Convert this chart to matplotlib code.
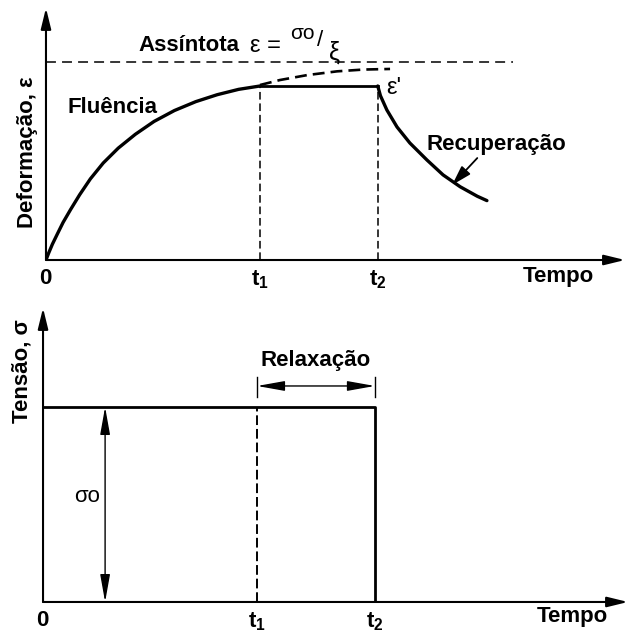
import matplotlib.pyplot as plt

plt.rcParams['font.family'] = ['Liberation Sans', 'DejaVu Sans']
plt.rcParams['mathtext.fontset'] = 'custom'
plt.rcParams['mathtext.rm'] = 'Liberation Sans'
plt.rcParams['mathtext.bf'] = 'Liberation Sans:bold'

# ==============================================================
# Dados (unidades arbitrárias de tempo e deformação)
# ==============================================================
t1 = 4.0
t2 = 6.2
asymptote = 1.0
sigma0 = 1.0

# fluência: de 0 até t1
creep_t = [0.0, 0.05, 0.12, 0.21, 0.32, 0.46, 0.63, 0.83, 1.07, 1.35,
           1.67, 2.02, 2.40, 2.80, 3.20, 3.60, 4.0]
creep_e = [0.0, 0.035, 0.08, 0.13, 0.19, 0.255, 0.33, 0.41, 0.49, 0.565,
           0.635, 0.70, 0.755, 0.80, 0.835, 0.862, 0.879]

# deformação constante entre t1 e t2
hold_t = [t1, t2]
hold_e = [0.879, 0.879]

# continuação da fluência (tracejada)
extra_t = [4.0, 4.37, 4.88, 5.44, 5.93, 6.43]
extra_e = [0.884, 0.909, 0.934, 0.953, 0.962, 0.965]

# recuperação após t2
rec_t = [6.2, 6.25, 6.37, 6.56, 6.80, 7.12, 7.42, 7.74, 8.06, 8.24]
rec_e = [0.879, 0.83, 0.758, 0.672, 0.591, 0.505, 0.43, 0.37, 0.322, 0.30]

asym_end = 8.73

# tensão aplicada
stress_t = [0.0, t2, t2]
stress_s = [sigma0, sigma0, 0.0]

tick_pos = [0.0, t1, t2]
tick_lab = [r'$\mathbf{0}$', r'$\mathbf{t_1}$', r'$\mathbf{t_2}$']

# ==============================================================
# Figura
# ==============================================================
fig = plt.figure(figsize=(6.29, 6.34), dpi=100)
ax1 = fig.add_axes([0.0731, 0.5899, 0.9205, 0.3975])
ax2 = fig.add_axes([0.0684, 0.0505, 0.930, 0.4637])

ax1.set_xlim(0, 10.82)
ax1.set_ylim(0, 1.273)
ax2.set_xlim(0, 10.93)
ax2.set_ylim(0, 1.508)

head = '-|>,head_length=0.9,head_width=0.22'
for ax in (ax1, ax2):
    for s in ax.spines.values():
        s.set_visible(False)
    ax.set_yticks([])
    ax.set_xticks(tick_pos, tick_lab)
    ax.tick_params(axis='x', length=0, pad=6, labelsize=16)
    # eixos com seta
    ax.annotate('', xy=(1, 0), xytext=(0, 0), xycoords='axes fraction',
                arrowprops=dict(arrowstyle=head, lw=1.5, color='k',
                                mutation_scale=14, shrinkA=0, shrinkB=0))
    ax.annotate('', xy=(0, 1), xytext=(0, 0), xycoords='axes fraction',
                arrowprops=dict(arrowstyle=head, lw=1.5, color='k',
                                mutation_scale=14, shrinkA=0, shrinkB=0))

# -------------------------
# Deformação x tempo
# -------------------------
ax1.plot(creep_t, creep_e, color='k', lw=2.4, solid_capstyle='round',
         solid_joinstyle='round')
ax1.plot(hold_t, hold_e, color='k', lw=2.0)
ax1.plot(extra_t, extra_e, color='k', lw=1.9, linestyle=(0, (4.5, 2.3)))
ax1.plot(rec_t, rec_e, color='k', lw=2.4, solid_capstyle='round',
         solid_joinstyle='round')
ax1.plot([0, asym_end], [asymptote, asymptote], color='k', lw=1.1,
         linestyle=(0, (6.5, 4)))
ax1.plot([t1, t1], [0, hold_e[0]], color='k', lw=1.1, linestyle=(0, (5, 2.5)))
ax1.plot([t2, t2], [0, hold_e[1]], color='k', lw=1.1, linestyle=(0, (5, 2.5)))

ax1.annotate('', xy=(7.59, 0.379), xytext=(8.06, 0.515),
             arrowprops=dict(arrowstyle='-|>,head_length=1.0,head_width=0.3',
                             lw=1.3, color='k', mutation_scale=12,
                             shrinkA=0, shrinkB=0))

ax1.text(1.72, 1.086, 'Assíntota', fontsize=16, fontweight='bold',
         ha='left', va='center')
ax1.text(3.82, 1.08, 'ε =', fontsize=17, ha='left', va='center')
ax1.text(4.56, 1.145, 'σo', fontsize=15, ha='left', va='center')
ax1.text(5.06, 1.11, '/', fontsize=16, ha='left', va='center')
ax1.text(5.28, 1.05, 'ξ', fontsize=18, ha='left', va='center')
ax1.text(0.41, 0.768, 'Fluência', fontsize=16, fontweight='bold',
         ha='left', va='center')
ax1.text(6.36, 0.87, "ε'", fontsize=17, ha='left', va='center')
ax1.text(7.12, 0.581, 'Recuperação', fontsize=16, fontweight='bold',
         ha='left', va='center')
ax1.text(9.57, -0.067, 'Tempo', fontsize=16, fontweight='bold',
         ha='center', va='center', transform=ax1.get_xaxis_transform())

# -------------------------
# Tensão x tempo
# -------------------------
ax2.plot(stress_t, stress_s, color='k', lw=2.0)
ax2.plot([t1, t1], [0, sigma0], color='k', lw=1.4, linestyle=(0, (5, 2)))

# intervalo de relaxação
ax2.plot([t1, t1], [1.051, 1.154], color='k', lw=1.0)
ax2.plot([t2, t2], [1.051, 1.154], color='k', lw=1.0)
ax2.annotate('', xy=(t1, 1.108), xytext=(t2, 1.108),
             arrowprops=dict(arrowstyle='<|-|>,head_length=1.4,head_width=0.25',
                             lw=1.0, color='k', mutation_scale=12,
                             shrinkA=0, shrinkB=0))
ax2.text((t1 + t2) / 2, 1.24, 'Relaxação', fontsize=16, fontweight='bold',
         ha='center', va='center')

# amplitude sigma_0
ax2.annotate('', xy=(1.16, 0), xytext=(1.16, sigma0),
             arrowprops=dict(arrowstyle='<|-|>,head_length=1.4,head_width=0.25',
                             lw=1.0, color='k', mutation_scale=12,
                             shrinkA=0, shrinkB=0))
ax2.text(0.82, 0.54, 'σo', fontsize=16, ha='center', va='center')
ax2.text(9.9, -0.051, 'Tempo', fontsize=16, fontweight='bold',
         ha='center', va='center', transform=ax2.get_xaxis_transform())

# rótulos dos eixos verticais
fig.text(28 / 629, 1 - 152 / 634, 'Deformação, ε', rotation=90, fontsize=16,
         fontweight='bold', ha='center', va='center')
fig.text(22 / 629, 1 - 371 / 634, 'Tensão, σ', rotation=90, fontsize=16,
         fontweight='bold', ha='center', va='center')

fig.savefig('out.png', dpi=100)
